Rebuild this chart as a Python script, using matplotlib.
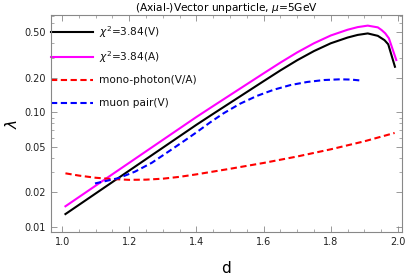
import matplotlib
matplotlib.use("Agg")
import matplotlib.pyplot as plt
from matplotlib.ticker import FixedLocator, LogLocator, NullFormatter, MultipleLocator

# data
d_V = [1.01, 1.05, 1.10, 1.15, 1.20, 1.25, 1.30, 1.35, 1.40, 1.45, 1.50, 1.55, 1.60,
       1.65, 1.70, 1.75, 1.80, 1.85, 1.88, 1.91, 1.94, 1.96, 1.971, 1.991]
lam_V = [0.01291, 0.01552, 0.01954, 0.02460, 0.03097, 0.03899, 0.04909, 0.06180, 0.07780,
         0.09705, 0.1208, 0.1503, 0.1871, 0.2323, 0.2851, 0.3428, 0.4009, 0.4498, 0.4742,
         0.4887, 0.4656, 0.4266, 0.3926, 0.2500]

d_A = [1.01, 1.05, 1.10, 1.15, 1.20, 1.25, 1.30, 1.35, 1.40, 1.45, 1.50, 1.55, 1.60,
       1.65, 1.70, 1.75, 1.80, 1.85, 1.88, 1.91, 1.94, 1.951, 1.962, 1.973, 1.995]
lam_A = [0.01510, 0.01816, 0.02286, 0.02878, 0.03623, 0.04562, 0.05744, 0.07231, 0.09103,
         0.1135, 0.1413, 0.1759, 0.2189, 0.2718, 0.3336, 0.4011, 0.4690, 0.5263, 0.5548,
         0.5718, 0.5520, 0.5240, 0.4900, 0.4430, 0.2860]

d_mono = [1.01, 1.05, 1.10, 1.15, 1.20, 1.25, 1.30, 1.35, 1.40, 1.50, 1.60, 1.70, 1.80,
          1.90, 1.99]
lam_mono = [0.0293, 0.0280, 0.0268, 0.0261, 0.0257, 0.0258, 0.0263, 0.0273, 0.0287, 0.0321,
            0.0361, 0.0411, 0.0475, 0.0558, 0.0660]

d_muon = [1.098, 1.13, 1.168, 1.217, 1.267, 1.316, 1.366, 1.40, 1.44, 1.48, 1.53, 1.58,
          1.63, 1.68, 1.73, 1.78, 1.827, 1.86, 1.895]
lam_muon = [0.0239, 0.0251, 0.0266, 0.0303, 0.0362, 0.0452, 0.0569, 0.0668, 0.0813, 0.0977,
            0.1189, 0.1390, 0.1574, 0.1730, 0.1841, 0.1914, 0.1941, 0.1932, 0.1888]

labels = [r"$\chi^2$=3.84(V)", r"$\chi^2$=3.84(A)", "mono-photon(V/A)", "muon pair(V)"]
xticks = [1.0, 1.2, 1.4, 1.6, 1.8, 2.0]
yticks = [0.01, 0.02, 0.05, 0.10, 0.20, 0.50]
ytick_labels = ["0.01", "0.02", "0.05", "0.10", "0.20", "0.50"]

fig = plt.figure(figsize=(4.07, 2.77), dpi=100)
ax = fig.add_axes([51/407, 1-232/277, (402-51)/407, (232-15)/277])

dash = (0, (3, 1.7))
styles = [dict(color="black", lw=1.5, ls="-"),
          dict(color="#ff00ff", lw=1.5, ls="-"),
          dict(color="red", lw=1.5, ls=dash),
          dict(color="blue", lw=1.5, ls=dash)]
series = [(d_V, lam_V), (d_A, lam_A), (d_mono, lam_mono), (d_muon, lam_muon)]
for (xs, ys), st, lab in zip(series, styles, labels):
    ax.plot(xs, ys, label=lab, **st)

ax.set_yscale("log")
ax.set_xlim(0.967, 2.012)
ax.set_ylim(0.0090, 0.708)

ax.set_xticks(xticks)
ax.set_xticklabels([f"{v:.1f}" for v in xticks])
ax.xaxis.set_minor_locator(MultipleLocator(0.05))
ax.yaxis.set_major_locator(FixedLocator(yticks))
ax.set_yticklabels(ytick_labels)
ax.yaxis.set_minor_locator(LogLocator(base=10, subs=[1, 2, 3, 4, 5, 6, 7, 8, 9]))
ax.yaxis.set_minor_formatter(NullFormatter())

gray = "#888888"
for s in ax.spines.values():
    s.set_color(gray)
    s.set_linewidth(0.8)
ax.tick_params(which="both", direction="in", top=True, right=True, color=gray,
               labelsize=7, labelcolor="#222222")
ax.tick_params(which="major", length=4, width=0.6)
ax.tick_params(which="minor", length=2, width=0.5)

ax.set_xlabel("d", fontsize=11, labelpad=10)
ax.set_ylabel(r"$\lambda$", fontsize=11, labelpad=3)
ax.set_title(r"(Axial-)Vector unparticle, $\mu$=5GeV", fontsize=7.7, pad=3)

# legend (key lines + texts), positioned like the reference
leg_y = [0.922, 0.806, 0.700, 0.594]
for yy, st, lab in zip(leg_y, styles, labels):
    ax.plot([0.0, 0.12], [yy, yy], transform=ax.transAxes, clip_on=False, **st)
    ax.text(0.137, yy, lab, transform=ax.transAxes, fontsize=7.6, va="center",
            ha="left", color="#111111")

fig.savefig("out.png", dpi=100)
